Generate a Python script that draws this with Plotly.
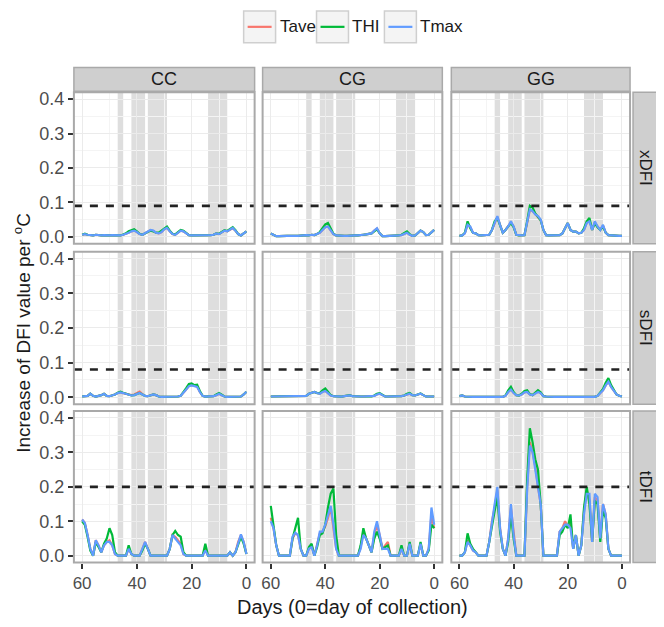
import plotly.graph_objects as go

W, H = 664, 627
OFF = 8  # page body margin: figure origin sits 8px right/down of the window origin

# ---------------- data ----------------
days = list(range(60, -1, -1))          # left (60) to right (0)
groups = ["CC", "CG", "GG"]
measures = ["xDFI", "sDFI", "tDFI"]
series_names = ["Tave", "THI", "Tmax"]
series_colors = ["#F8766D", "#00BA38", "#619CFF"]
thresholds = [0.09, 0.08, 0.20]
band_ranges = [(45, 47), (37, 42), (29, 36), (7, 14)]
x_ticks = [0, 20, 40, 60]
y_ticks = [0.0, 0.1, 0.2, 0.3, 0.4]
y_ticklabels = ["0.0", "0.1", "0.2", "0.3", "0.4"]

# ---- CC ----
CC_xDFI_Tave = [0.006,0.008,0.006,0.004,0.004,0.006,0.004,0.004,0.005,0.004,
                0.004,0.005,0.004,0.005,0.004,0.006,0.008,0.012,0.016,0.018,
                0.014,0.008,0.006,0.010,0.016,0.019,0.017,0.012,0.010,0.014,
                0.022,0.026,0.016,0.008,0.006,0.012,0.018,0.016,0.010,0.005,
                0.004,0.004,0.003,0.003,0.003,0.004,0.004,0.005,0.006,0.010,
                0.008,0.012,0.018,0.016,0.020,0.025,0.018,0.008,0.004,0.010,0.016]
CC_xDFI_THI = [0.006,0.009,0.006,0.004,0.004,0.006,0.004,0.004,0.005,0.004,
               0.004,0.005,0.004,0.005,0.004,0.007,0.010,0.016,0.020,0.022,
               0.016,0.009,0.006,0.010,0.014,0.018,0.016,0.012,0.012,0.018,
               0.026,0.030,0.018,0.009,0.007,0.014,0.020,0.018,0.010,0.005,
               0.004,0.004,0.003,0.003,0.003,0.004,0.004,0.005,0.006,0.010,
               0.009,0.013,0.019,0.017,0.022,0.028,0.019,0.008,0.004,0.010,0.016]
CC_xDFI_Tmax = [0.006,0.008,0.006,0.004,0.004,0.006,0.004,0.004,0.005,0.004,
                0.004,0.005,0.004,0.005,0.004,0.006,0.008,0.012,0.016,0.018,
                0.014,0.008,0.006,0.010,0.016,0.020,0.018,0.012,0.010,0.014,
                0.022,0.026,0.016,0.008,0.006,0.012,0.018,0.016,0.010,0.005,
                0.004,0.004,0.003,0.003,0.003,0.004,0.004,0.005,0.006,0.010,
                0.008,0.012,0.018,0.016,0.020,0.026,0.018,0.008,0.004,0.010,0.016]

CC_sDFI_Tave = [0.002,0.002,0.004,0.010,0.004,0.002,0.003,0.006,0.010,0.004,
                0.003,0.005,0.008,0.012,0.014,0.012,0.010,0.008,0.006,0.008,
                0.013,0.016,0.009,0.004,0.003,0.005,0.008,0.006,0.002,0.001,
                0.001,0.001,0.001,0.001,0.001,0.002,0.004,0.012,0.022,0.032,
                0.035,0.033,0.031,0.015,0.004,0.002,0.002,0.002,0.003,0.006,
                0.010,0.006,0.002,0.001,0.001,0.001,0.001,0.001,0.002,0.008,0.016]
CC_sDFI_THI = [0.002,0.002,0.004,0.010,0.004,0.002,0.003,0.006,0.010,0.004,
               0.003,0.005,0.008,0.013,0.016,0.013,0.010,0.008,0.005,0.006,
               0.010,0.012,0.008,0.004,0.003,0.005,0.008,0.006,0.002,0.001,
               0.001,0.001,0.001,0.001,0.001,0.002,0.004,0.014,0.026,0.038,
               0.040,0.035,0.036,0.018,0.004,0.002,0.002,0.002,0.003,0.008,
               0.012,0.007,0.002,0.001,0.001,0.001,0.001,0.001,0.002,0.008,0.016]
CC_sDFI_Tmax = [0.002,0.002,0.004,0.010,0.004,0.002,0.003,0.006,0.010,0.004,
                0.003,0.005,0.008,0.012,0.014,0.012,0.010,0.008,0.005,0.006,
                0.010,0.012,0.008,0.004,0.003,0.005,0.008,0.006,0.002,0.001,
                0.001,0.001,0.001,0.001,0.001,0.002,0.004,0.012,0.022,0.032,
                0.034,0.032,0.030,0.015,0.004,0.002,0.002,0.002,0.003,0.006,
                0.010,0.006,0.002,0.001,0.001,0.001,0.001,0.001,0.002,0.008,0.016]

CC_tDFI_Tave = [0.105,0.095,0.060,0.020,0.000,0.045,0.030,0.010,0.030,0.040,
                0.045,0.030,0.005,0.000,0.000,0.000,0.000,0.020,0.005,0.000,
                0.000,0.000,0.020,0.040,0.020,0.000,0.000,0.000,0.000,0.000,
                0.000,0.000,0.020,0.060,0.055,0.045,0.035,0.005,0.000,0.000,
                0.000,0.000,0.000,0.000,0.000,0.020,0.000,0.000,0.000,0.000,
                0.000,0.000,0.000,0.000,0.010,0.000,0.010,0.040,0.060,0.040,0.005]
CC_tDFI_THI = [0.100,0.090,0.055,0.015,0.000,0.040,0.025,0.010,0.035,0.050,
               0.080,0.060,0.010,0.000,0.000,0.000,0.000,0.030,0.005,0.000,
               0.000,0.000,0.015,0.035,0.020,0.000,0.000,0.000,0.000,0.000,
               0.000,0.000,0.020,0.060,0.072,0.060,0.055,0.010,0.000,0.000,
               0.000,0.000,0.000,0.000,0.000,0.035,0.000,0.000,0.000,0.000,
               0.000,0.000,0.000,0.000,0.010,0.000,0.010,0.035,0.055,0.035,0.005]
CC_tDFI_Tmax = [0.105,0.095,0.060,0.020,0.000,0.045,0.030,0.010,0.030,0.040,
                0.040,0.030,0.005,0.000,0.000,0.000,0.000,0.020,0.005,0.000,
                0.000,0.000,0.020,0.040,0.020,0.000,0.000,0.000,0.000,0.000,
                0.000,0.000,0.020,0.060,0.050,0.040,0.030,0.005,0.000,0.000,
                0.000,0.000,0.000,0.000,0.000,0.015,0.000,0.000,0.000,0.000,
                0.000,0.000,0.000,0.000,0.010,0.000,0.010,0.040,0.062,0.040,0.005]

# ---- CG ----
CG_xDFI_Tave = [0.010,0.006,0.002,0.002,0.003,0.004,0.003,0.003,0.004,0.003,
                0.003,0.004,0.003,0.005,0.004,0.006,0.005,0.008,0.012,0.020,
                0.028,0.030,0.018,0.008,0.004,0.003,0.004,0.003,0.003,0.004,
                0.005,0.004,0.004,0.006,0.006,0.007,0.008,0.010,0.018,0.024,
                0.010,0.002,0.002,0.002,0.002,0.003,0.004,0.004,0.005,0.008,
                0.012,0.006,0.003,0.004,0.010,0.018,0.014,0.005,0.006,0.014,0.020]
CG_xDFI_THI = [0.010,0.006,0.002,0.002,0.003,0.004,0.003,0.003,0.004,0.003,
               0.003,0.004,0.003,0.005,0.004,0.006,0.005,0.008,0.014,0.026,
               0.036,0.040,0.022,0.009,0.004,0.003,0.004,0.003,0.003,0.004,
               0.005,0.004,0.004,0.006,0.006,0.007,0.008,0.010,0.016,0.022,
               0.010,0.002,0.002,0.002,0.002,0.003,0.004,0.004,0.006,0.010,
               0.016,0.008,0.003,0.004,0.010,0.018,0.014,0.005,0.006,0.014,0.020]
CG_xDFI_Tmax = [0.010,0.006,0.002,0.002,0.003,0.004,0.003,0.003,0.004,0.003,
                0.003,0.004,0.003,0.005,0.004,0.006,0.005,0.008,0.012,0.020,
                0.028,0.030,0.018,0.008,0.004,0.003,0.004,0.003,0.003,0.004,
                0.005,0.004,0.004,0.006,0.006,0.007,0.008,0.010,0.018,0.025,
                0.010,0.002,0.002,0.002,0.002,0.003,0.004,0.004,0.005,0.008,
                0.012,0.006,0.003,0.004,0.010,0.018,0.014,0.005,0.006,0.014,0.020]

CG_sDFI_Tave = [0.002,0.002,0.002,0.002,0.002,0.002,0.002,0.002,0.002,0.002,
                0.002,0.002,0.002,0.004,0.010,0.012,0.015,0.012,0.010,0.016,
                0.018,0.012,0.005,0.003,0.002,0.002,0.002,0.003,0.004,0.005,
                0.003,0.002,0.002,0.002,0.002,0.002,0.002,0.002,0.004,0.008,
                0.010,0.006,0.002,0.002,0.002,0.002,0.002,0.002,0.003,0.005,
                0.008,0.010,0.006,0.005,0.008,0.010,0.006,0.002,0.002,0.002,0.002]
CG_sDFI_THI = [0.002,0.002,0.002,0.002,0.002,0.002,0.002,0.002,0.002,0.002,
               0.002,0.002,0.002,0.004,0.010,0.012,0.015,0.012,0.012,0.020,
               0.025,0.016,0.006,0.003,0.002,0.002,0.002,0.003,0.004,0.006,
               0.003,0.002,0.002,0.002,0.002,0.002,0.002,0.002,0.005,0.010,
               0.012,0.007,0.002,0.002,0.002,0.002,0.002,0.002,0.003,0.005,
               0.010,0.012,0.006,0.005,0.008,0.011,0.006,0.002,0.002,0.002,0.002]
CG_sDFI_Tmax = [0.002,0.002,0.002,0.002,0.002,0.002,0.002,0.002,0.002,0.002,
                0.002,0.002,0.002,0.004,0.010,0.012,0.015,0.012,0.010,0.015,
                0.018,0.012,0.005,0.003,0.002,0.002,0.002,0.003,0.004,0.005,
                0.003,0.002,0.002,0.002,0.002,0.002,0.002,0.002,0.004,0.008,
                0.010,0.006,0.002,0.002,0.002,0.002,0.002,0.002,0.003,0.005,
                0.008,0.010,0.006,0.005,0.008,0.010,0.006,0.002,0.002,0.002,0.002]

CG_tDFI_Tave = [0.110,0.080,0.030,0.000,0.000,0.000,0.000,0.000,0.050,0.065,
                0.060,0.020,0.000,0.000,0.020,0.030,0.000,0.030,0.065,0.070,
                0.085,0.110,0.140,0.080,0.020,0.000,0.000,0.000,0.000,0.000,
                0.000,0.000,0.000,0.025,0.070,0.050,0.030,0.010,0.060,0.090,
                0.060,0.020,0.030,0.040,0.000,0.000,0.000,0.000,0.020,0.000,
                0.000,0.035,0.000,0.000,0.000,0.035,0.000,0.000,0.020,0.120,0.080]
CG_tDFI_THI = [0.145,0.085,0.030,0.000,0.000,0.000,0.000,0.000,0.050,0.080,
               0.110,0.020,0.000,0.000,0.025,0.035,0.000,0.025,0.060,0.065,
               0.090,0.140,0.180,0.195,0.060,0.000,0.000,0.000,0.000,0.000,
               0.000,0.000,0.000,0.030,0.080,0.050,0.030,0.010,0.050,0.070,
               0.050,0.020,0.025,0.030,0.000,0.000,0.000,0.000,0.030,0.000,
               0.000,0.040,0.000,0.000,0.000,0.040,0.000,0.000,0.015,0.090,0.080]
CG_tDFI_Tmax = [0.100,0.080,0.030,0.000,0.000,0.000,0.000,0.000,0.055,0.067,
                0.060,0.020,0.000,0.000,0.020,0.025,0.000,0.030,0.070,0.070,
                0.090,0.115,0.145,0.090,0.020,0.000,0.000,0.000,0.000,0.000,
                0.000,0.000,0.000,0.020,0.060,0.050,0.030,0.010,0.070,0.100,
                0.060,0.020,0.020,0.020,0.000,0.000,0.000,0.000,0.020,0.000,
                0.000,0.035,0.000,0.000,0.000,0.035,0.000,0.000,0.020,0.140,0.090]

# ---- GG ----
GG_xDFI_Tave = [0.003,0.004,0.010,0.035,0.028,0.012,0.010,0.005,0.004,0.005,
                0.005,0.006,0.020,0.040,0.058,0.035,0.012,0.020,0.030,0.042,
                0.030,0.006,0.004,0.004,0.005,0.040,0.078,0.075,0.065,0.058,
                0.048,0.020,0.005,0.004,0.004,0.004,0.004,0.005,0.010,0.025,
                0.040,0.020,0.015,0.015,0.010,0.012,0.020,0.040,0.048,0.020,
                0.042,0.030,0.020,0.033,0.012,0.005,0.004,0.003,0.003,0.003,0.003]
GG_xDFI_THI = [0.003,0.004,0.012,0.045,0.025,0.012,0.010,0.005,0.004,0.005,
               0.005,0.006,0.020,0.045,0.055,0.030,0.012,0.020,0.030,0.040,
               0.028,0.006,0.004,0.004,0.005,0.045,0.090,0.085,0.068,0.058,
               0.048,0.020,0.005,0.004,0.004,0.004,0.004,0.005,0.010,0.025,
               0.040,0.020,0.015,0.015,0.010,0.012,0.025,0.045,0.055,0.020,
               0.040,0.028,0.020,0.030,0.012,0.005,0.004,0.003,0.003,0.003,0.003]
GG_xDFI_Tmax = [0.003,0.004,0.010,0.035,0.030,0.012,0.010,0.005,0.004,0.005,
                0.005,0.006,0.020,0.040,0.060,0.035,0.012,0.020,0.030,0.045,
                0.030,0.006,0.004,0.004,0.005,0.040,0.080,0.075,0.065,0.060,
                0.050,0.020,0.005,0.004,0.004,0.004,0.004,0.005,0.010,0.025,
                0.040,0.020,0.015,0.015,0.010,0.012,0.020,0.040,0.045,0.020,
                0.045,0.030,0.020,0.035,0.012,0.005,0.004,0.003,0.003,0.003,0.003]

GG_sDFI_Tave = [0.003,0.005,0.002,0.001,0.001,0.001,0.001,0.001,0.001,0.001,
                0.001,0.001,0.001,0.001,0.001,0.001,0.001,0.004,0.015,0.022,
                0.012,0.006,0.005,0.008,0.014,0.016,0.008,0.006,0.010,0.016,
                0.012,0.003,0.002,0.001,0.001,0.001,0.001,0.001,0.001,0.001,
                0.001,0.001,0.001,0.001,0.001,0.001,0.001,0.001,0.001,0.001,
                0.001,0.004,0.012,0.020,0.034,0.045,0.030,0.018,0.008,0.004,0.002]
GG_sDFI_THI = [0.003,0.005,0.002,0.001,0.001,0.001,0.001,0.001,0.001,0.001,
               0.001,0.001,0.001,0.001,0.001,0.001,0.001,0.005,0.020,0.030,
               0.015,0.006,0.005,0.010,0.018,0.020,0.009,0.006,0.012,0.020,
               0.014,0.003,0.002,0.001,0.001,0.001,0.001,0.001,0.001,0.001,
               0.001,0.001,0.001,0.001,0.001,0.001,0.001,0.001,0.001,0.001,
               0.001,0.004,0.014,0.024,0.042,0.055,0.035,0.020,0.008,0.004,0.002]
GG_sDFI_Tmax = [0.003,0.005,0.002,0.001,0.001,0.001,0.001,0.001,0.001,0.001,
                0.001,0.001,0.001,0.001,0.001,0.001,0.001,0.004,0.015,0.022,
                0.012,0.006,0.005,0.008,0.014,0.015,0.008,0.006,0.010,0.015,
                0.012,0.003,0.002,0.001,0.001,0.001,0.001,0.001,0.001,0.001,
                0.001,0.001,0.001,0.001,0.001,0.001,0.001,0.001,0.001,0.001,
                0.001,0.004,0.012,0.020,0.034,0.045,0.030,0.018,0.008,0.004,0.002]

GG_tDFI_Tave = [0.000,0.000,0.010,0.045,0.030,0.015,0.010,0.000,0.000,0.000,
                0.000,0.040,0.100,0.140,0.190,0.080,0.020,0.000,0.050,0.140,
                0.060,0.000,0.000,0.000,0.000,0.200,0.330,0.300,0.260,0.200,
                0.150,0.000,0.000,0.000,0.000,0.000,0.000,0.070,0.080,0.100,
                0.085,0.100,0.020,0.060,0.000,0.030,0.130,0.190,0.160,0.040,
                0.170,0.160,0.050,0.150,0.120,0.020,0.000,0.000,0.000,0.000,0.000]
GG_tDFI_THI = [0.000,0.000,0.010,0.065,0.035,0.020,0.010,0.000,0.000,0.000,
               0.000,0.040,0.090,0.130,0.170,0.070,0.020,0.000,0.040,0.120,
               0.050,0.000,0.000,0.000,0.000,0.220,0.370,0.330,0.280,0.250,
               0.150,0.000,0.000,0.000,0.000,0.000,0.000,0.060,0.070,0.090,
               0.080,0.120,0.020,0.060,0.000,0.030,0.140,0.200,0.150,0.040,
               0.160,0.150,0.040,0.130,0.110,0.020,0.000,0.000,0.000,0.000,0.000]
GG_tDFI_Tmax = [0.000,0.000,0.010,0.040,0.030,0.015,0.010,0.000,0.000,0.000,
                0.000,0.040,0.100,0.150,0.200,0.080,0.020,0.000,0.050,0.150,
                0.060,0.000,0.000,0.000,0.000,0.190,0.320,0.300,0.250,0.200,
                0.150,0.000,0.000,0.000,0.000,0.000,0.000,0.070,0.080,0.090,
                0.090,0.080,0.020,0.060,0.000,0.030,0.120,0.180,0.180,0.040,
                0.180,0.170,0.050,0.150,0.120,0.020,0.000,0.000,0.000,0.000,0.000]

data = {
    ("CC", "xDFI"): [CC_xDFI_Tave, CC_xDFI_THI, CC_xDFI_Tmax],
    ("CC", "sDFI"): [CC_sDFI_Tave, CC_sDFI_THI, CC_sDFI_Tmax],
    ("CC", "tDFI"): [CC_tDFI_Tave, CC_tDFI_THI, CC_tDFI_Tmax],
    ("CG", "xDFI"): [CG_xDFI_Tave, CG_xDFI_THI, CG_xDFI_Tmax],
    ("CG", "sDFI"): [CG_sDFI_Tave, CG_sDFI_THI, CG_sDFI_Tmax],
    ("CG", "tDFI"): [CG_tDFI_Tave, CG_tDFI_THI, CG_tDFI_Tmax],
    ("GG", "xDFI"): [GG_xDFI_Tave, GG_xDFI_THI, GG_xDFI_Tmax],
    ("GG", "sDFI"): [GG_sDFI_Tave, GG_sDFI_THI, GG_sDFI_Tmax],
    ("GG", "tDFI"): [GG_tDFI_Tave, GG_tDFI_THI, GG_tDFI_Tmax],
}

# ---------------- layout geometry (window pixels) ----------------
col_px = [(73, 254), (262, 442), (451, 630)]
row_px = [(90, 243), (251, 405), (412, 565)]
strip_top = (65, 89)
strip_right = (633, 657)

FW, FH = W - OFF, H - OFF   # figure size so that it ends at the window edge

def fx(px):
    return (px - OFF) / FW

def fy(py):
    return 1 - (py - OFF) / FH

FONT = "Liberation Sans, Arial, sans-serif"
GRID = "#ebebeb"
BORDER = "#a9a9a9"
STRIP_BG = "#cfcfcf"
TICK_SIZE = 17

fig = go.Figure()
shapes = []
annotations = []

for r, meas in enumerate(measures):
    for c, grp in enumerate(groups):
        k = r * 3 + c + 1
        xa = "x" if k == 1 else f"x{k}"
        ya = "y" if k == 1 else f"y{k}"
        for s, (nm, col) in enumerate(zip(series_names, series_colors)):
            fig.add_trace(go.Scatter(
                x=days, y=data[(grp, meas)][s], mode="lines",
                line=dict(color=col, width=2.2), name=nm,
                showlegend=False, xaxis=xa, yaxis=ya, hoverinfo="skip"))
        # threshold dashed line
        fig.add_trace(go.Scatter(
            x=[63, -3], y=[thresholds[r], thresholds[r]], mode="lines",
            line=dict(color="#222222", width=2.6, dash="8px,8px"),
            showlegend=False, xaxis=xa, yaxis=ya, hoverinfo="skip"))
        # shaded bands
        for (b0, b1) in band_ranges:
            shapes.append(dict(type="rect", xref=xa, yref="paper",
                               x0=b0, x1=b1,
                               y0=fy(row_px[r][1]), y1=fy(row_px[r][0]),
                               fillcolor="#dedede", line=dict(width=0),
                               layer="below"))
        axkw = dict(
            domain=[fx(col_px[c][0]), fx(col_px[c][1])],
            range=[63, -3], tickmode="array", tickvals=x_ticks,
            showgrid=True, gridcolor=GRID, gridwidth=1,
            minor=dict(showgrid=True, gridcolor="#f4f4f4", tickvals=[10, 30, 50], gridwidth=0.8),
            zeroline=False, showline=False,
            anchor=ya,
            tickfont=dict(family=FONT, size=TICK_SIZE, color="#4d4d4d"),
        )
        if r == 2:
            axkw.update(ticks="outside", ticklen=5, tickwidth=2,
                        tickcolor="#333333", showticklabels=True)
        else:
            axkw.update(ticks="", showticklabels=False)
        fig.layout[f"xaxis{'' if k == 1 else k}"] = axkw

        aykw = dict(
            domain=[fy(row_px[r][1]), fy(row_px[r][0])],
            range=[-0.02, 0.42], tickmode="array", tickvals=y_ticks,
            ticktext=y_ticklabels,
            showgrid=True, gridcolor=GRID, gridwidth=1,
            minor=dict(showgrid=True, gridcolor="#f4f4f4",
                       tickvals=[0.05, 0.15, 0.25, 0.35], gridwidth=0.8),
            zeroline=False, showline=False, anchor=xa,
            tickfont=dict(family=FONT, size=18, color="#4d4d4d"),
        )
        if c == 0:
            aykw.update(ticks="outside", ticklen=5, tickwidth=2,
                        tickcolor="#333333", showticklabels=True)
        else:
            aykw.update(ticks="", showticklabels=False)
        fig.layout[f"yaxis{'' if k == 1 else k}"] = aykw

        # panel border
        shapes.append(dict(type="rect", xref="paper", yref="paper",
                           x0=fx(col_px[c][0]), x1=fx(col_px[c][1]),
                           y0=fy(row_px[r][1]), y1=fy(row_px[r][0]),
                           line=dict(color=BORDER, width=2),
                           fillcolor="rgba(0,0,0,0)", layer="above"))

# column strips
for c, grp in enumerate(groups):
    shapes.append(dict(type="rect", xref="paper", yref="paper",
                       x0=fx(col_px[c][0]), x1=fx(col_px[c][1]),
                       y0=fy(strip_top[1]), y1=fy(strip_top[0]),
                       fillcolor=STRIP_BG, line=dict(color=BORDER, width=1.5)))
    annotations.append(dict(xref="paper", yref="paper",
                            x=fx((col_px[c][0] + col_px[c][1]) / 2),
                            y=fy((strip_top[0] + strip_top[1]) / 2),
                            text=grp, showarrow=False,
                            font=dict(family=FONT, size=18, color="#1a1a1a"),
                            xanchor="center", yanchor="middle"))
# row strips
for r, meas in enumerate(measures):
    shapes.append(dict(type="rect", xref="paper", yref="paper",
                       x0=fx(strip_right[0]), x1=fx(strip_right[1]),
                       y0=fy(row_px[r][1]), y1=fy(row_px[r][0]),
                       fillcolor=STRIP_BG, line=dict(color=BORDER, width=1.5)))
    annotations.append(dict(xref="paper", yref="paper",
                            x=fx((strip_right[0] + strip_right[1]) / 2),
                            y=fy((row_px[r][0] + row_px[r][1]) / 2),
                            text=meas, showarrow=False, textangle=90,
                            font=dict(family=FONT, size=17, color="#1a1a1a"),
                            xanchor="center", yanchor="middle"))

# legend (ggplot-style boxed keys)
leg_keys = [(243, 275), (316, 348), (384, 416)]
leg_y = (8, 40)
for (x0, x1), nm, col in zip(leg_keys, series_names, series_colors):
    shapes.append(dict(type="rect", xref="paper", yref="paper",
                       x0=fx(x0), x1=fx(x1), y0=fy(leg_y[1]), y1=fy(leg_y[0]),
                       fillcolor="#f4f4f4", line=dict(color="#cfcfcf", width=1.5)))
    shapes.append(dict(type="line", xref="paper", yref="paper",
                       x0=fx(x0 + 4), x1=fx(x1 - 4),
                       y0=fy((leg_y[0] + leg_y[1]) / 2), y1=fy((leg_y[0] + leg_y[1]) / 2),
                       line=dict(color=col, width=2.2)))
    annotations.append(dict(xref="paper", yref="paper", x=fx(x1 + 2),
                            y=fy((leg_y[0] + leg_y[1]) / 2), text=nm,
                            showarrow=False, xanchor="left", yanchor="middle",
                            font=dict(family=FONT, size=17, color="#1a1a1a")))

# axis titles
annotations.append(dict(xref="paper", yref="paper", x=fx(352), y=fy(610),
                        text="Days (0=day of collection)", showarrow=False,
                        xanchor="center", yanchor="middle",
                        font=dict(family=FONT, size=20, color="#1a1a1a")))
annotations.append(dict(xref="paper", yref="paper", x=fx(21), y=fy(333),
                        text="Increase of DFI value per <sup>o</sup>C", showarrow=False,
                        textangle=-90, xanchor="center", yanchor="middle",
                        font=dict(family=FONT, size=19, color="#1a1a1a")))

fig.update_layout(
    width=FW, height=FH, margin=dict(l=0, r=0, t=0, b=0),
    paper_bgcolor="white", plot_bgcolor="white",
    shapes=shapes, annotations=annotations, showlegend=False,
)

fig.write_html("out.html")
